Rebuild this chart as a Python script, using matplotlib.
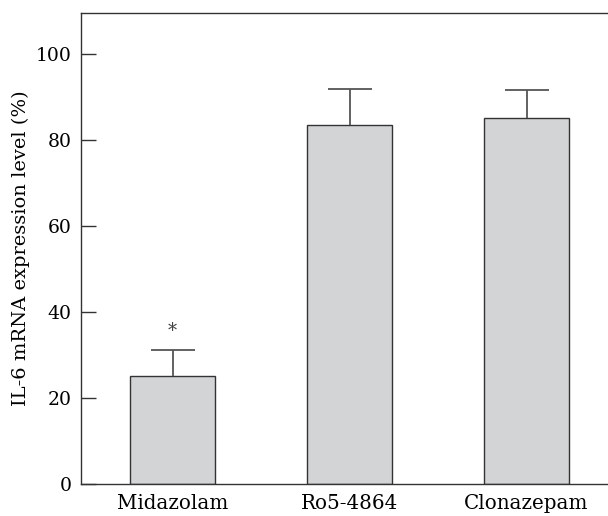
import matplotlib.pyplot as plt
import numpy as np

drugs = ['Midazolam', 'Ro5-4864', 'Clonazepam']
expr = [25.2, 83.5, 85.0]
err = [6.0, 8.4, 6.5]
star_y = 35.5

plt.rcParams['font.family'] = 'DejaVu Serif'
plt.rcParams['font.size'] = 13.5

fig = plt.figure(figsize=(6.08, 5.16), dpi=100)
ax = fig.add_axes([81/608, 32/516, 527/608, 471/516])

x = np.arange(len(drugs))
bars = ax.bar(x, expr, width=0.48, color='#d3d4d6', edgecolor='#333333', linewidth=1.0,
              yerr=[np.zeros(len(err)), err], capsize=16,
              error_kw=dict(ecolor='#555555', elinewidth=1.3, capthick=1.3))
# only the upper cap
caps = bars.errorbar.lines[1]
caps[0].set_visible(False)

ax.text(x[0], star_y, '*', ha='center', va='center', fontsize=13, color='#444444')

ax.set_xlim(-0.517, -0.517 + 527/177)
ax.set_ylim(0, 109.5)
ax.set_yticks([0, 20, 40, 60, 80, 100])
ax.set_xticks(x)
ax.set_xticklabels(drugs, fontsize=14.3)
ax.tick_params(axis='y', direction='in', length=11, width=1, color='#333333', pad=7)
ax.tick_params(axis='x', length=0, pad=7)
ax.set_ylabel('IL-6 mRNA expression level (%)', fontsize=14, labelpad=4)

ax.spines['right'].set_visible(False)
for s in ['left', 'bottom', 'top']:
    ax.spines[s].set_color('#333333')
    ax.spines[s].set_linewidth(1.0)

fig.savefig('out.png', dpi=100)
